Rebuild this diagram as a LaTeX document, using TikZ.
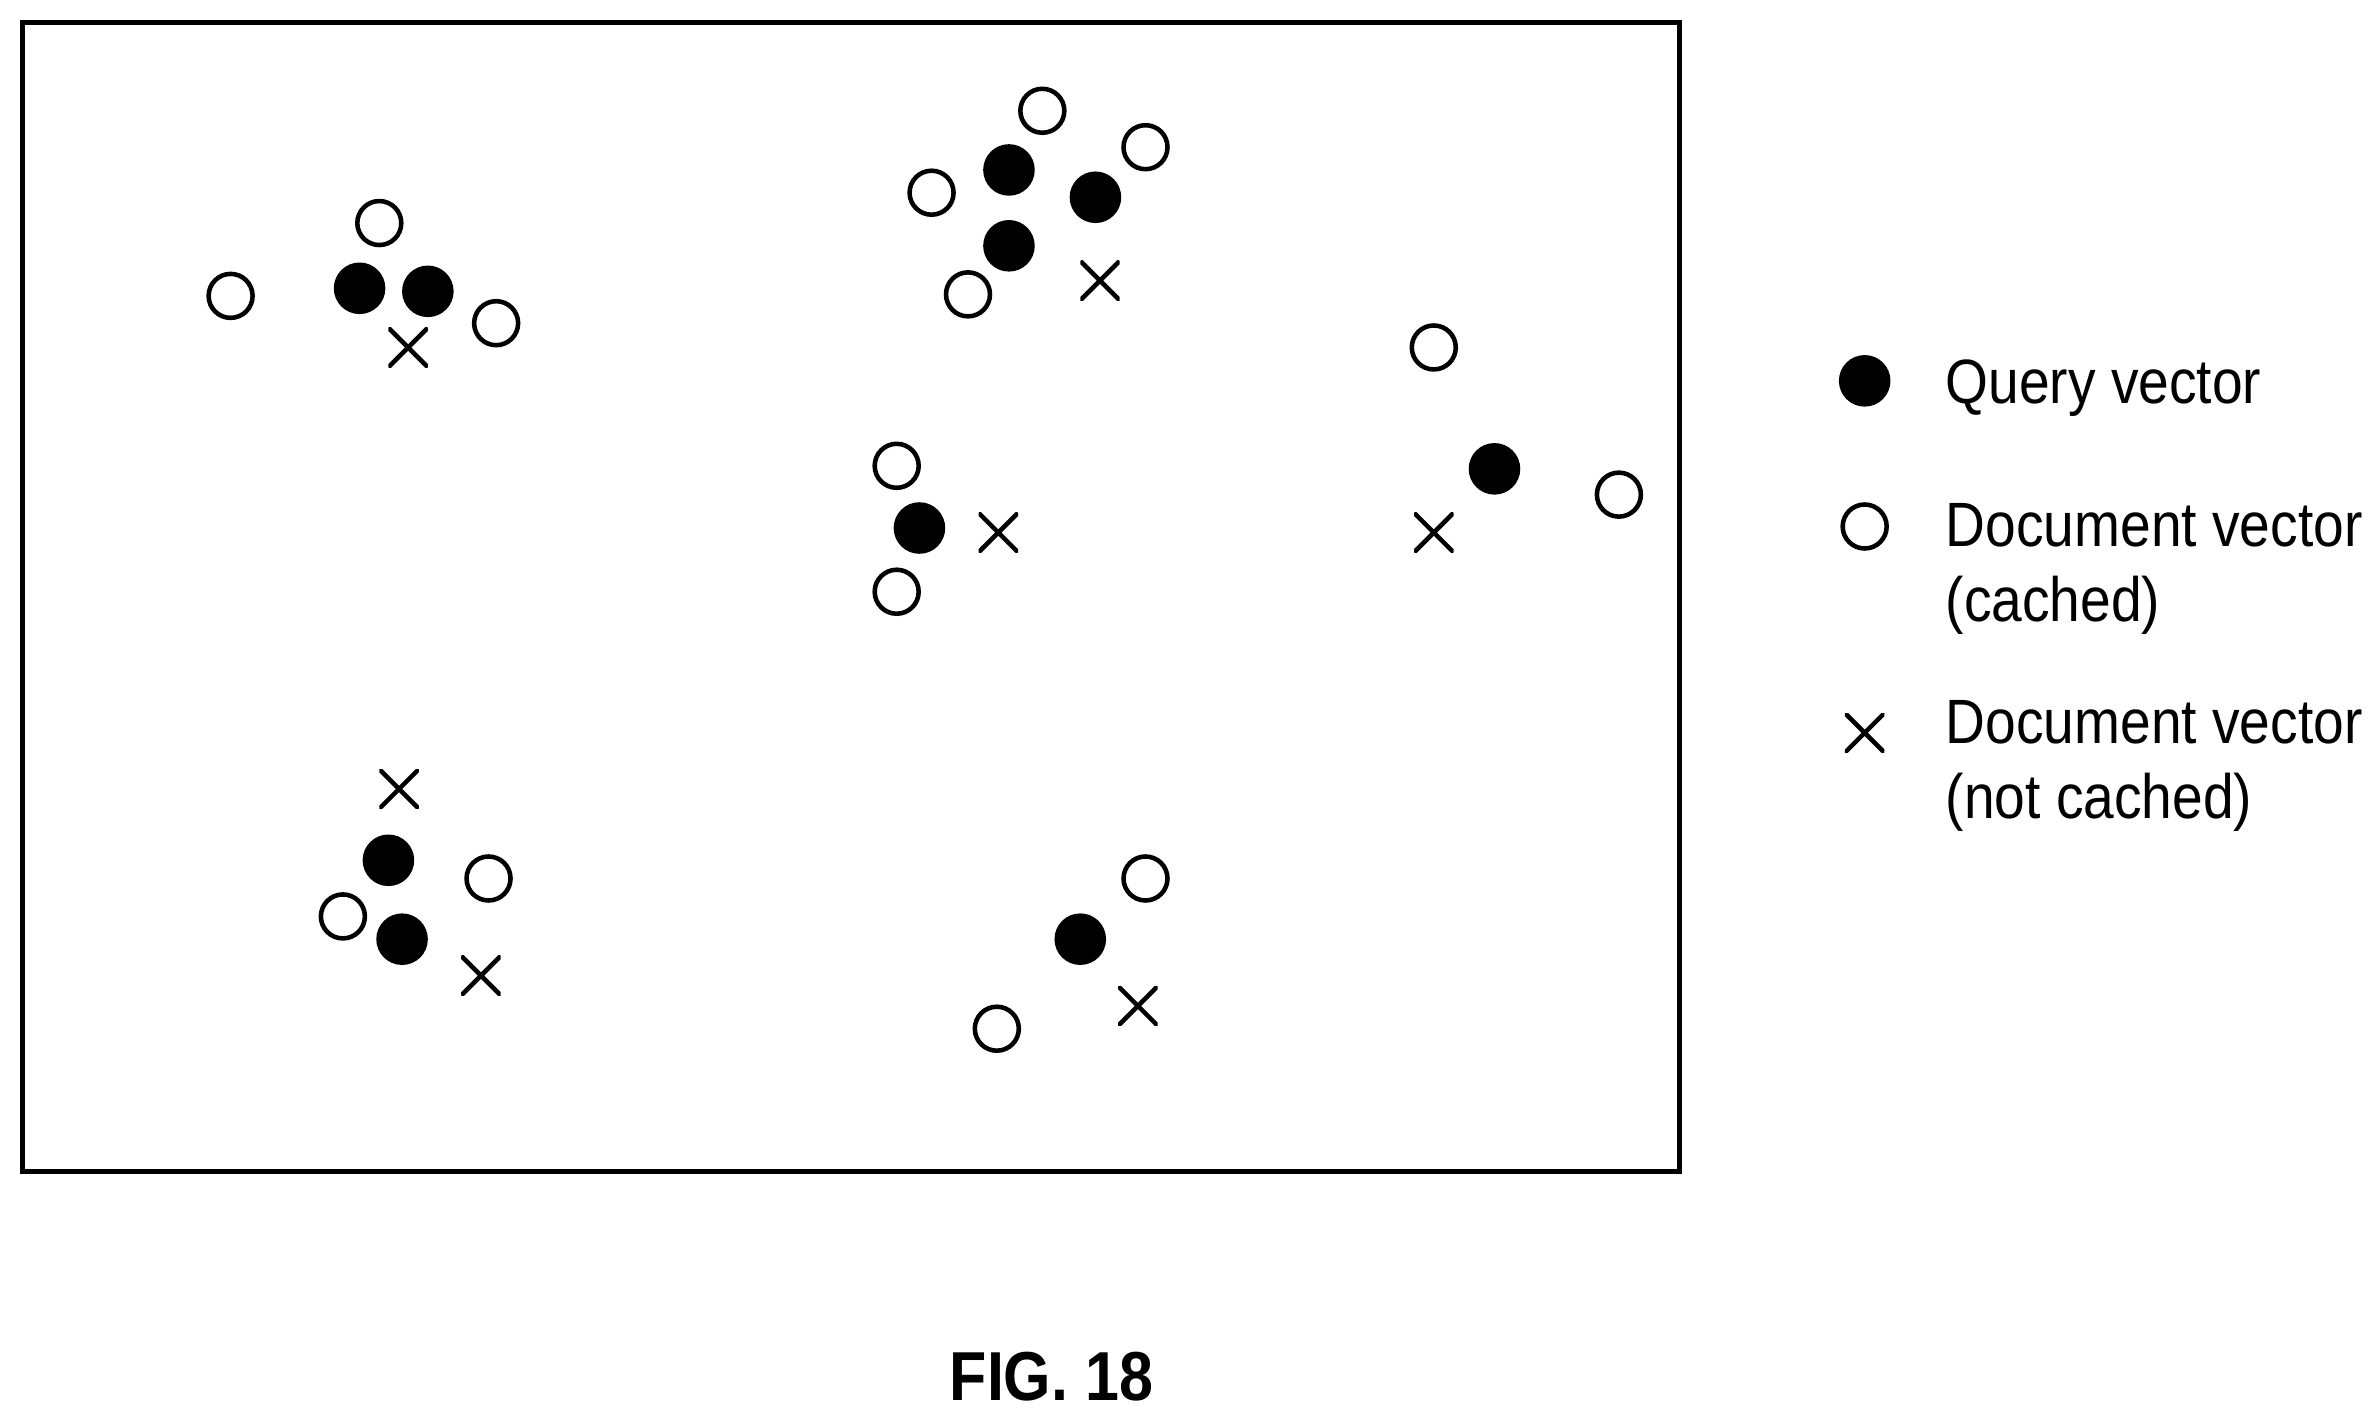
\documentclass[tikz,border=0pt]{standalone}
\usepackage{fontspec}
\setmainfont{Liberation Sans}
\begin{document}
\begin{tikzpicture}[x=0.02cm,y=-0.02cm,
 q/.style={circle,fill=black,minimum size=0.68cm,inner sep=0pt},
 d/.style={circle,draw=black,line width=0.06cm,minimum size=0.58cm,inner sep=0pt},
 xm/.style={draw=none,minimum size=0.52cm,inner sep=0pt,path picture={\draw[line width=0.06cm] (path picture bounding box.north west)--(path picture bounding box.south east) (path picture bounding box.north east)--(path picture bounding box.south west);}},
 lab/.style={anchor=west,font=\fontsize{23.5}{28}\selectfont,xscale=0.88,align=left,transform shape}]
\useasboundingbox (0,0) rectangle (1568,938);
\draw[line width=0.07cm] (15,15) rectangle (1107,772);
\foreach \p [count=\i] in {(237,190),(282,192),(665,112),(722,130),(665,162),(606,348),(985,309),(256,567),(265,619),(712,619)} \node[q] (q\i) at \p {};
\foreach \p [count=\i] in {(250,147),(152,195),(327,213),(687,73),(755,97),(614,127),(638,194),(591,307),(591,390),(945,229),(1067,326),(322,579),(226,604),(755,579),(657,678)} \node[d] (d\i) at \p {};
\foreach \p [count=\i] in {(269,229),(725,185),(658,351),(945,351),(263,520),(317,643),(750,663)} \node[xm] (x\i) at \p {};
\node[q] (lq) at (1229,251) {};
\node[d] (ld) at (1229,347) {};
\node[xm] (lx) at (1229,483) {};
\node[lab] (t1) at (1277,256) {Query vector};
\node[lab] (t2) at (1277,375) {Document vector\\(cached)};
\node[lab] (t3) at (1277,505) {Document vector\\(not cached)};
\node[font=\bfseries\fontsize{26}{30}\selectfont,xscale=0.88,transform shape] (fig) at (693,907) {FIG. 18};
\end{tikzpicture}
\end{document}
